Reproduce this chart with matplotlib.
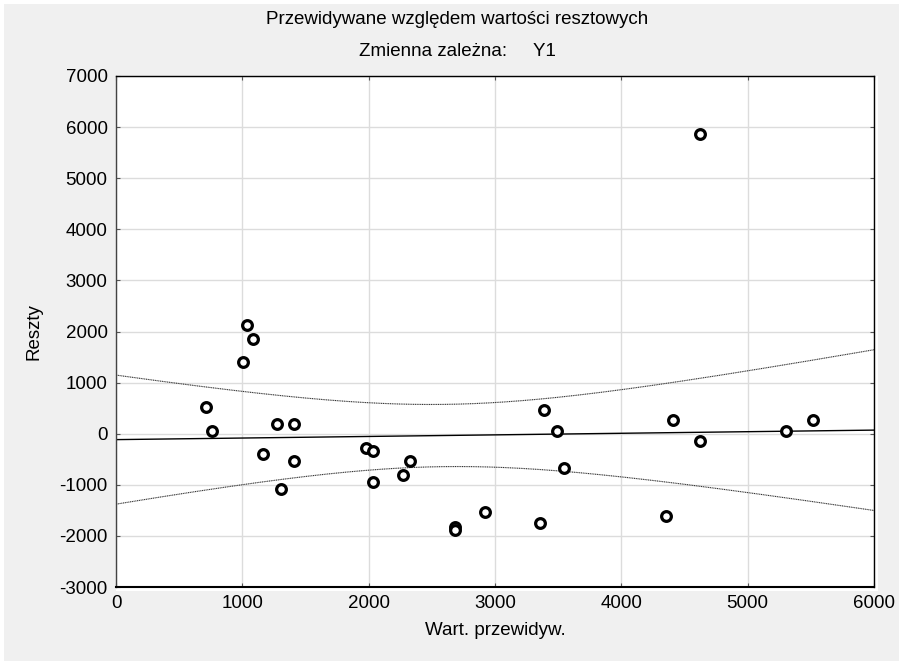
import numpy as np
import matplotlib.pyplot as plt
from matplotlib.patches import Rectangle

plt.rcParams['font.family'] = ['Liberation Sans', 'DejaVu Sans']
plt.rcParams['axes.unicode_minus'] = False

# wartosci przewidywane i reszty
przewidywane = [710, 762, 1003, 1034, 1087, 1166, 1277, 1303, 1411, 1411,
                1976, 2032, 2032, 2272, 2330, 2683, 2683, 2923, 3356, 3385,
                3491, 3546, 4356, 4409, 4625, 4625, 5303, 5517]
reszty = [528, 59, 1397, 2127, 1859, -403, 196, -1076, 196, -540,
          -274, -339, -939, -808, -540, -1820, -1885, -1538, -1742, 464,
          59, -671, -1605, 262, -137, 5859, 59, 262]

x = np.array(przewidywane, dtype=float)
y = np.array(reszty, dtype=float)

# prosta regresji + 95% przedzial ufnosci
n = len(x)
b, a = np.polyfit(x, y, 1)
s = np.sqrt(np.sum((y - (a + b * x)) ** 2) / (n - 2))
sxx = np.sum((x - x.mean()) ** 2)
t = 2.056
xx = np.linspace(0, 6000, 300)
yy = a + b * xx
h = t * s * np.sqrt(1 / n + (xx - x.mean()) ** 2 / sxx)

fs = 13.5

fig = plt.figure(figsize=(8.99, 6.61), dpi=100, facecolor='white')
fig.patches.append(Rectangle((4 / 899, 0), 1, 1 - 4 / 661, transform=fig.transFigure,
                             facecolor='#f0f0f0', edgecolor='none', zorder=-10))
fig.patches.append(Rectangle((116 / 899, 1 - 591 / 661), 762 / 899, 515 / 661,
                             transform=fig.transFigure, facecolor='white',
                             edgecolor='none', zorder=-5))

ax = fig.add_axes([116 / 899, 1 - 587 / 661, 758 / 899, 511 / 661])
ax.set_xlim(0, 6000)
ax.set_ylim(-3000, 7000)
ax.set_xticks(range(0, 6001, 1000))
ax.set_yticks(range(-3000, 7001, 1000))
ax.grid(True, color='#dcdcdc', lw=1)
ax.set_axisbelow(True)

ax.plot(xx, yy, color='black', lw=1)
ax.plot(xx, yy + h, color='#333333', lw=0.8, ls=(0, (1, 0.6)))
ax.plot(xx, yy - h, color='#333333', lw=0.8, ls=(0, (1, 0.6)))
ax.plot(x, y, 'o', ms=7, mfc='white', mec='black', mew=2.3, clip_on=False)

for sp in ax.spines.values():
    sp.set_color('black')
    sp.set_linewidth(1)
ax.spines['left'].set_color('#444444')
ax.spines['bottom'].set_linewidth(1.5)

ax.tick_params(direction='in', length=3, color='#555555', labelsize=fs,
               top=True, right=True, pad=6)

ax.set_xlabel('Wart. przewidyw.', fontsize=fs, labelpad=7)
ax.set_ylabel('Reszty', fontsize=fs, labelpad=12)

fig.text(457 / 899, 1 - 20 / 661, 'Przewidywane względem wartości resztowych',
         ha='center', va='center', fontsize=fs)
fig.text(457 / 899, 1 - 52 / 661, 'Zmienna zależna:     Y1',
         ha='center', va='center', fontsize=fs)

fig.savefig('out.png', dpi=100, facecolor=fig.get_facecolor())
